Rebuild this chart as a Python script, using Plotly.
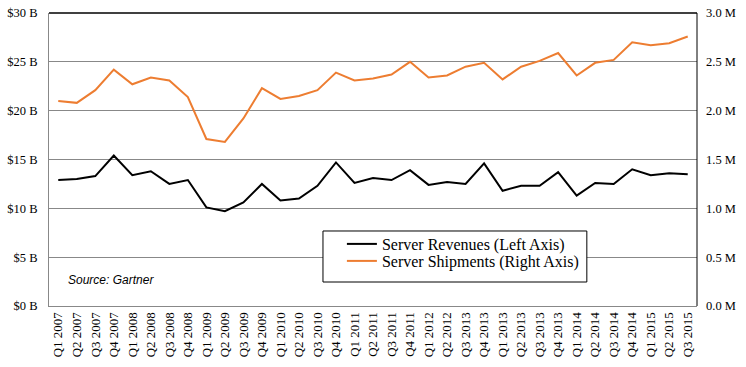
import plotly.graph_objects as go

quarters = ["Q1 2007", "Q2 2007", "Q3 2007", "Q4 2007", "Q1 2008", "Q2 2008", "Q3 2008", "Q4 2008",
            "Q1 2009", "Q2 2009", "Q3 2009", "Q4 2009", "Q1 2010", "Q2 2010", "Q3 2010", "Q4 2010",
            "Q1 2011", "Q2 2011", "Q3 2011", "Q4 2011", "Q1 2012", "Q2 2012", "Q3 2013", "Q4 2013",
            "Q1 2013", "Q2 2013", "Q3 2013", "Q4 2013", "Q1 2014", "Q2 2014", "Q3 2014", "Q4 2014",
            "Q1 2015", "Q2 2015", "Q3 2015"]
revenues_b = [12.9, 13.0, 13.3, 15.4, 13.4, 13.8, 12.5, 12.9,
              10.1, 9.7, 10.6, 12.5, 10.8, 11.0, 12.3, 14.7,
              12.6, 13.1, 12.9, 13.9, 12.4, 12.7, 12.5, 14.6,
              11.8, 12.3, 12.3, 13.7, 11.3, 12.6, 12.5, 14.0,
              13.4, 13.6, 13.5]
shipments_m = [2.10, 2.08, 2.21, 2.42, 2.27, 2.34, 2.31, 2.14,
               1.71, 1.68, 1.92, 2.23, 2.12, 2.15, 2.21, 2.39,
               2.31, 2.33, 2.37, 2.50, 2.34, 2.36, 2.45, 2.49,
               2.32, 2.45, 2.51, 2.59, 2.36, 2.49, 2.52, 2.70,
               2.67, 2.69, 2.76]
left_ticks = [0, 5, 10, 15, 20, 25, 30]
left_labels = ["$0 B", "$5 B", "$10 B", "$15 B", "$20 B", "$25 B", "$30 B"]
right_ticks = [0, 0.5, 1.0, 1.5, 2.0, 2.5, 3.0]
right_labels = ["0.0 M", "0.5 M", "1.0 M", "1.5 M", "2.0 M", "2.5 M", "3.0 M"]

x = list(range(len(quarters)))
serif = "'Liberation Serif', 'Times New Roman', serif"
legend_font = dict(family=serif, size=16, color="#000")

fig = go.Figure()
fig.add_trace(go.Scatter(x=x, y=revenues_b, mode="lines", name="Server Revenues (Left Axis)",
                         line=dict(color="#000000", width=2), yaxis="y", legend="legend"))
fig.add_trace(go.Scatter(x=x, y=shipments_m, mode="lines", name="Server Shipments (Right Axis)",
                         line=dict(color="#ED7D31", width=2), yaxis="y2", legend="legend2"))

fig.update_layout(
    width=746, height=367,
    margin=dict(l=49, r=49, t=13, b=61, autoexpand=False),
    paper_bgcolor="white", plot_bgcolor="white",
    showlegend=True,
    legend=dict(x=0.452, y=0.2116, xanchor="left", yanchor="middle",
                borderwidth=0, bgcolor="rgba(0,0,0,0)", font=legend_font, itemwidth=30),
    legend2=dict(x=0.452, y=0.1536, xanchor="left", yanchor="middle",
                 borderwidth=0, bgcolor="rgba(0,0,0,0)", font=legend_font, itemwidth=30),
    xaxis=dict(range=[-0.5, len(quarters) - 0.5], tickvals=x, ticktext=quarters,
               tickangle=-90, showgrid=False, showline=True, linecolor="#888888", linewidth=1,
               ticks="", automargin=False,
               tickfont=dict(family=serif, size=13, color="#000"),
               zeroline=False),
    yaxis=dict(range=[0, 30], tickvals=left_ticks, ticktext=left_labels,
               showgrid=True, gridcolor="#888888", gridwidth=1, automargin=False,
               showline=True, linecolor="#888888", zeroline=False, ticks="",
               ticklabelstandoff=8,
               tickfont=dict(family=serif, size=12.5, color="#000")),
    yaxis2=dict(range=[0, 3], tickvals=right_ticks, ticktext=right_labels, overlaying="y", side="right",
                showgrid=False, showline=False, zeroline=False, ticks="", automargin=False,
                ticklabelstandoff=8,
                tickfont=dict(family=serif, size=12.5, color="#000")),
)

# plot frame: top and right borders
fig.add_shape(type="line", xref="paper", yref="paper", x0=0, x1=1, y0=1, y1=1,
              line=dict(color="#000000", width=1.5))
fig.add_shape(type="line", xref="paper", yref="paper", x0=1, x1=1, y0=0, y1=1,
              line=dict(color="#000000", width=1))
# legend box
fig.add_shape(type="rect", xref="paper", yref="paper", x0=0.4228, x1=0.830, y0=0.0819, y1=0.256,
              line=dict(color="#000000", width=1), fillcolor="white", layer="above")
fig.add_annotation(text="<i>Source: Gartner</i>", xref="paper", yref="paper", x=0.026, y=0.0887,
                   xanchor="left", yanchor="middle", showarrow=False,
                   font=dict(family="'Liberation Sans', Arial, sans-serif", size=12, color="#000"))

fig.write_html("out.html", config={"displayModeBar": False},
               post_script="document.body.style.margin='0';document.body.style.padding='0';")
